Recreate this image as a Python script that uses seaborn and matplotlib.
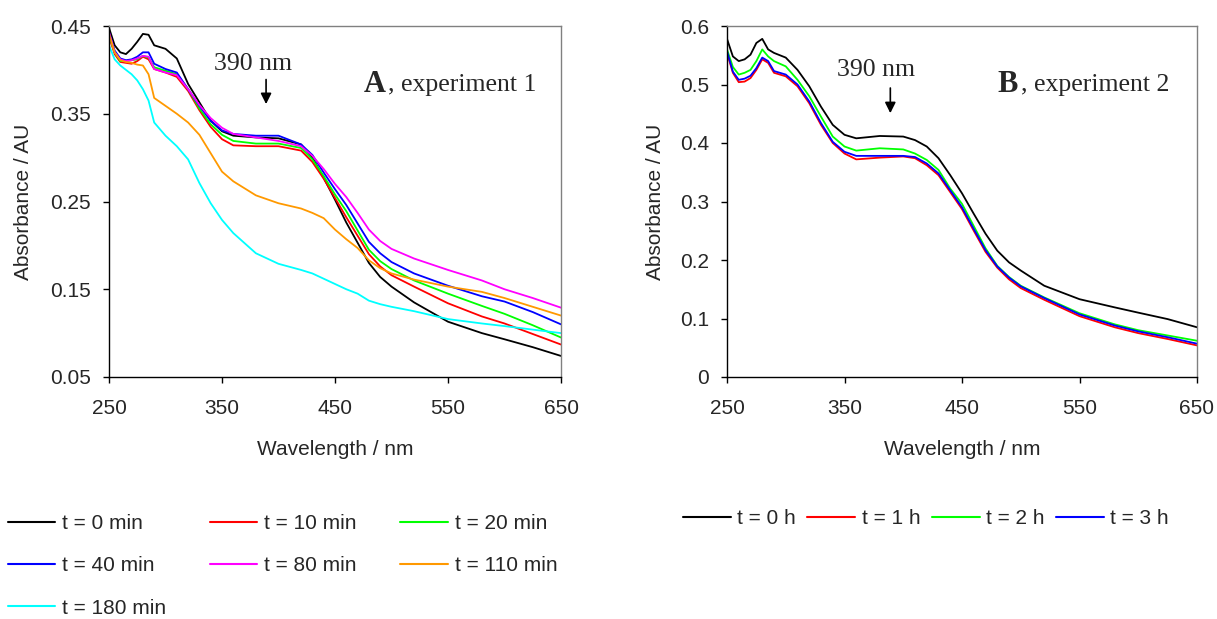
import numpy as np
import pandas as pd
import matplotlib
matplotlib.use("Agg")
import matplotlib.pyplot as plt
import seaborn as sns
from matplotlib.lines import Line2D

# ---------------- Data: panel A (experiment 1) ----------------
wavelength_a = [250, 255, 260, 265, 270, 275, 280, 285, 290, 300, 310, 320, 330, 340,
                350, 360, 380, 400, 420, 430, 440, 450, 460, 470, 480, 490, 500, 520,
                550, 580, 600, 625, 650]
a_0min = [0.448, 0.428, 0.420, 0.418, 0.424, 0.432, 0.441, 0.440, 0.428, 0.424, 0.413, 0.384,
          0.363, 0.342, 0.330, 0.325, 0.323, 0.322, 0.315, 0.300, 0.277, 0.252, 0.226, 0.203,
          0.180, 0.164, 0.153, 0.135, 0.113, 0.100, 0.093, 0.084, 0.074]
a_10min = [0.438, 0.418, 0.409, 0.408, 0.407, 0.410, 0.415, 0.412, 0.401, 0.397, 0.392, 0.376,
           0.354, 0.335, 0.321, 0.314, 0.313, 0.313, 0.308, 0.295, 0.276, 0.254, 0.232, 0.211,
           0.190, 0.176, 0.166, 0.153, 0.134, 0.119, 0.111, 0.099, 0.087]
a_20min = [0.440, 0.420, 0.410, 0.410, 0.411, 0.412, 0.416, 0.414, 0.403, 0.399, 0.395, 0.378,
           0.356, 0.338, 0.326, 0.319, 0.316, 0.316, 0.311, 0.298, 0.279, 0.258, 0.239, 0.217,
           0.195, 0.182, 0.173, 0.160, 0.145, 0.131, 0.122, 0.109, 0.095]
a_40min = [0.443, 0.422, 0.413, 0.411, 0.412, 0.415, 0.420, 0.420, 0.407, 0.401, 0.397, 0.378,
           0.359, 0.342, 0.331, 0.327, 0.325, 0.325, 0.315, 0.303, 0.283, 0.264, 0.246, 0.225,
           0.204, 0.191, 0.181, 0.168, 0.154, 0.142, 0.136, 0.124, 0.110]
a_80min = [0.443, 0.420, 0.412, 0.410, 0.411, 0.413, 0.416, 0.415, 0.401, 0.397, 0.394, 0.378,
           0.360, 0.345, 0.334, 0.327, 0.323, 0.319, 0.313, 0.302, 0.287, 0.270, 0.255, 0.237,
           0.218, 0.205, 0.196, 0.185, 0.172, 0.160, 0.150, 0.140, 0.129]
a_110min = [0.441, 0.420, 0.411, 0.409, 0.408, 0.406, 0.405, 0.395, 0.368, 0.359, 0.350, 0.340,
            0.326, 0.305, 0.284, 0.273, 0.257, 0.248, 0.242, 0.237, 0.231, 0.218, 0.207, 0.197,
            0.183, 0.174, 0.168, 0.161, 0.153, 0.147, 0.140, 0.130, 0.120]
a_180min = [0.428, 0.412, 0.405, 0.400, 0.395, 0.388, 0.378, 0.365, 0.340, 0.325, 0.313, 0.298,
            0.271, 0.248, 0.229, 0.214, 0.191, 0.179, 0.172, 0.168, 0.162, 0.156, 0.150, 0.145,
            0.137, 0.133, 0.130, 0.125, 0.116, 0.111, 0.108, 0.104, 0.100]
labels_a = ["t = 0 min", "t = 10 min", "t = 20 min", "t = 40 min",
            "t = 80 min", "t = 110 min", "t = 180 min"]
colors_a = ["#000000", "#ff0000", "#00ff00", "#0000ff", "#ff00ff", "#ff9900", "#00ffff"]

# ---------------- Data: panel B (experiment 2) ----------------
wavelength_b = [250, 255, 260, 265, 270, 275, 280, 285, 290, 300, 310, 320, 330, 340,
                350, 360, 380, 400, 410, 420, 430, 440, 450, 460, 470, 480, 490, 500,
                520, 550, 580, 600, 625, 650]
b_0h = [0.578, 0.548, 0.540, 0.543, 0.551, 0.571, 0.578, 0.560, 0.554, 0.546, 0.525, 0.497,
        0.462, 0.431, 0.414, 0.408, 0.412, 0.411, 0.405, 0.394, 0.374, 0.345, 0.314, 0.279,
        0.245, 0.216, 0.196, 0.182, 0.156, 0.133, 0.119, 0.110, 0.099, 0.085]
b_1h = [0.554, 0.520, 0.504, 0.505, 0.511, 0.525, 0.543, 0.537, 0.520, 0.514, 0.497, 0.468,
        0.431, 0.400, 0.382, 0.372, 0.375, 0.377, 0.374, 0.362, 0.345, 0.316, 0.287, 0.250,
        0.214, 0.187, 0.167, 0.152, 0.132, 0.104, 0.085, 0.075, 0.065, 0.054]
b_2h = [0.560, 0.530, 0.517, 0.520, 0.525, 0.540, 0.560, 0.548, 0.540, 0.531, 0.508, 0.480,
        0.445, 0.411, 0.394, 0.387, 0.391, 0.389, 0.382, 0.371, 0.354, 0.322, 0.296, 0.258,
        0.220, 0.190, 0.171, 0.156, 0.136, 0.109, 0.090, 0.080, 0.071, 0.062]
b_3h = [0.557, 0.522, 0.508, 0.510, 0.515, 0.528, 0.546, 0.540, 0.523, 0.517, 0.500, 0.471,
        0.434, 0.402, 0.385, 0.378, 0.378, 0.378, 0.376, 0.365, 0.348, 0.319, 0.290, 0.253,
        0.217, 0.189, 0.170, 0.155, 0.135, 0.107, 0.088, 0.078, 0.068, 0.057]
labels_b = ["t = 0 h", "t = 1 h", "t = 2 h", "t = 3 h"]
colors_b = ["#000000", "#ff0000", "#00ff00", "#0000ff"]

# ---------------- long-form tables ----------------
series_a = [a_0min, a_10min, a_20min, a_40min, a_80min, a_110min, a_180min]
df_a = pd.concat([pd.DataFrame({"wl": wavelength_a, "abs": s, "t": lab})
                  for s, lab in zip(series_a, labels_a)], ignore_index=True)
series_b = [b_0h, b_1h, b_2h, b_3h]
df_b = pd.concat([pd.DataFrame({"wl": wavelength_b, "abs": s, "t": lab})
                  for s, lab in zip(series_b, labels_b)], ignore_index=True)

sns.set_style("white")
plt.rcParams["font.family"] = ["Liberation Sans", "DejaVu Sans"]

W, H = 1217, 619
fig = plt.figure(figsize=(W / 100, H / 100), dpi=100)

def px_axes(x0, x1, y0, y1):
    return fig.add_axes([x0 / W, 1 - y1 / H, (x1 - x0) / W, (y1 - y0) / H])

ax_a = px_axes(109, 561, 26, 377)
ax_b = px_axes(727, 1197, 26, 377)

LW = 1.3
sns.lineplot(data=df_a, x="wl", y="abs", hue="t", hue_order=labels_a,
             palette=dict(zip(labels_a, colors_a)), estimator=None, sort=False,
             lw=LW, legend=False, ax=ax_a)
sns.lineplot(data=df_b, x="wl", y="abs", hue="t", hue_order=labels_b,
             palette=dict(zip(labels_b, colors_b)), estimator=None, sort=False,
             lw=LW, legend=False, ax=ax_b)

FS = 15
serif = ["Liberation Serif", "DejaVu Serif"]

def style_axes(ax, ylim, yticks, ylabel_x):
    ax.set_xlim(250, 650)
    ax.set_ylim(*ylim)
    ax.set_xticks([250, 350, 450, 550, 650])
    ax.set_yticks(yticks)
    ax.set_xticklabels([str(v) for v in [250, 350, 450, 550, 650]])
    ax.set_yticklabels([("%g" % v) for v in yticks])
    ax.tick_params(axis="both", which="major", direction="out", length=4,
                   width=1, color="black", labelsize=FS, bottom=True, left=True)
    ax.tick_params(axis="x", pad=12)
    ax.tick_params(axis="y", pad=9)
    for side in ["top", "right"]:
        ax.spines[side].set_color("#808080")
        ax.spines[side].set_linewidth(1.0)
    for side in ["left", "bottom"]:
        ax.spines[side].set_color("black")
        ax.spines[side].set_linewidth(1.0)
    ax.set_xlabel("Wavelength / nm", fontsize=FS)
    ax.set_ylabel("Absorbance / AU", fontsize=FS)
    ax.xaxis.set_label_coords(0.5, -0.18)
    ax.yaxis.set_label_coords(ylabel_x, 0.5)

style_axes(ax_a, (0.05, 0.45), [0.05, 0.15, 0.25, 0.35, 0.45], (33 - 109) / 452)
style_axes(ax_b, (0.0, 0.6), [0, 0.1, 0.2, 0.3, 0.4, 0.5, 0.6], (665 - 727) / 470)

# annotations
ax_a.text(377, 0.407, "390 nm", ha="center", va="center", fontsize=18.5, family=serif)
ax_a.annotate("", xy=(389, 0.361), xytext=(389, 0.389),
              arrowprops=dict(arrowstyle="-|>", color="black", lw=1.2,
                              mutation_scale=16, shrinkA=0, shrinkB=0))
ax_a.text(475, 0.383, "A", ha="left", va="center", fontsize=22, fontweight="bold",
          family=serif)
ax_a.text(475 + 21.5, 0.383, ", experiment 1", ha="left", va="center", fontsize=18.5,
          family=serif)

ax_b.text(377, 0.524, "390 nm", ha="center", va="center", fontsize=18.5, family=serif)
ax_b.annotate("", xy=(389, 0.451), xytext=(389, 0.494),
              arrowprops=dict(arrowstyle="-|>", color="black", lw=1.2,
                              mutation_scale=16, shrinkA=0, shrinkB=0))
ax_b.text(480, 0.500, "B", ha="left", va="center", fontsize=22, fontweight="bold",
          family=serif)
ax_b.text(480 + 20.0, 0.500, ", experiment 2", ha="left", va="center", fontsize=18.5,
          family=serif)

# legends
order_a = [0, 3, 6, 1, 4, 2, 5]
handles_a = [Line2D([], [], color=colors_a[i], lw=1.5) for i in order_a]
fig.legend(handles_a, [labels_a[i] for i in order_a], loc="upper left",
           bbox_to_anchor=(8 / W, 1 - 514 / H), ncol=3, frameon=False,
           fontsize=FS, handlelength=2.26, handletextpad=0.34, columnspacing=2.1,
           labelspacing=1.12, borderpad=0, borderaxespad=0)

handles_b = [Line2D([], [], color=c, lw=1.5) for c in colors_b]
fig.legend(handles_b, labels_b, loc="upper left",
           bbox_to_anchor=(683 / W, 1 - 509 / H), ncol=4, frameon=False,
           fontsize=FS, handlelength=2.3, handletextpad=0.3, columnspacing=0.55,
           borderpad=0, borderaxespad=0)

fig.savefig("out.png", dpi=100, facecolor="white")
